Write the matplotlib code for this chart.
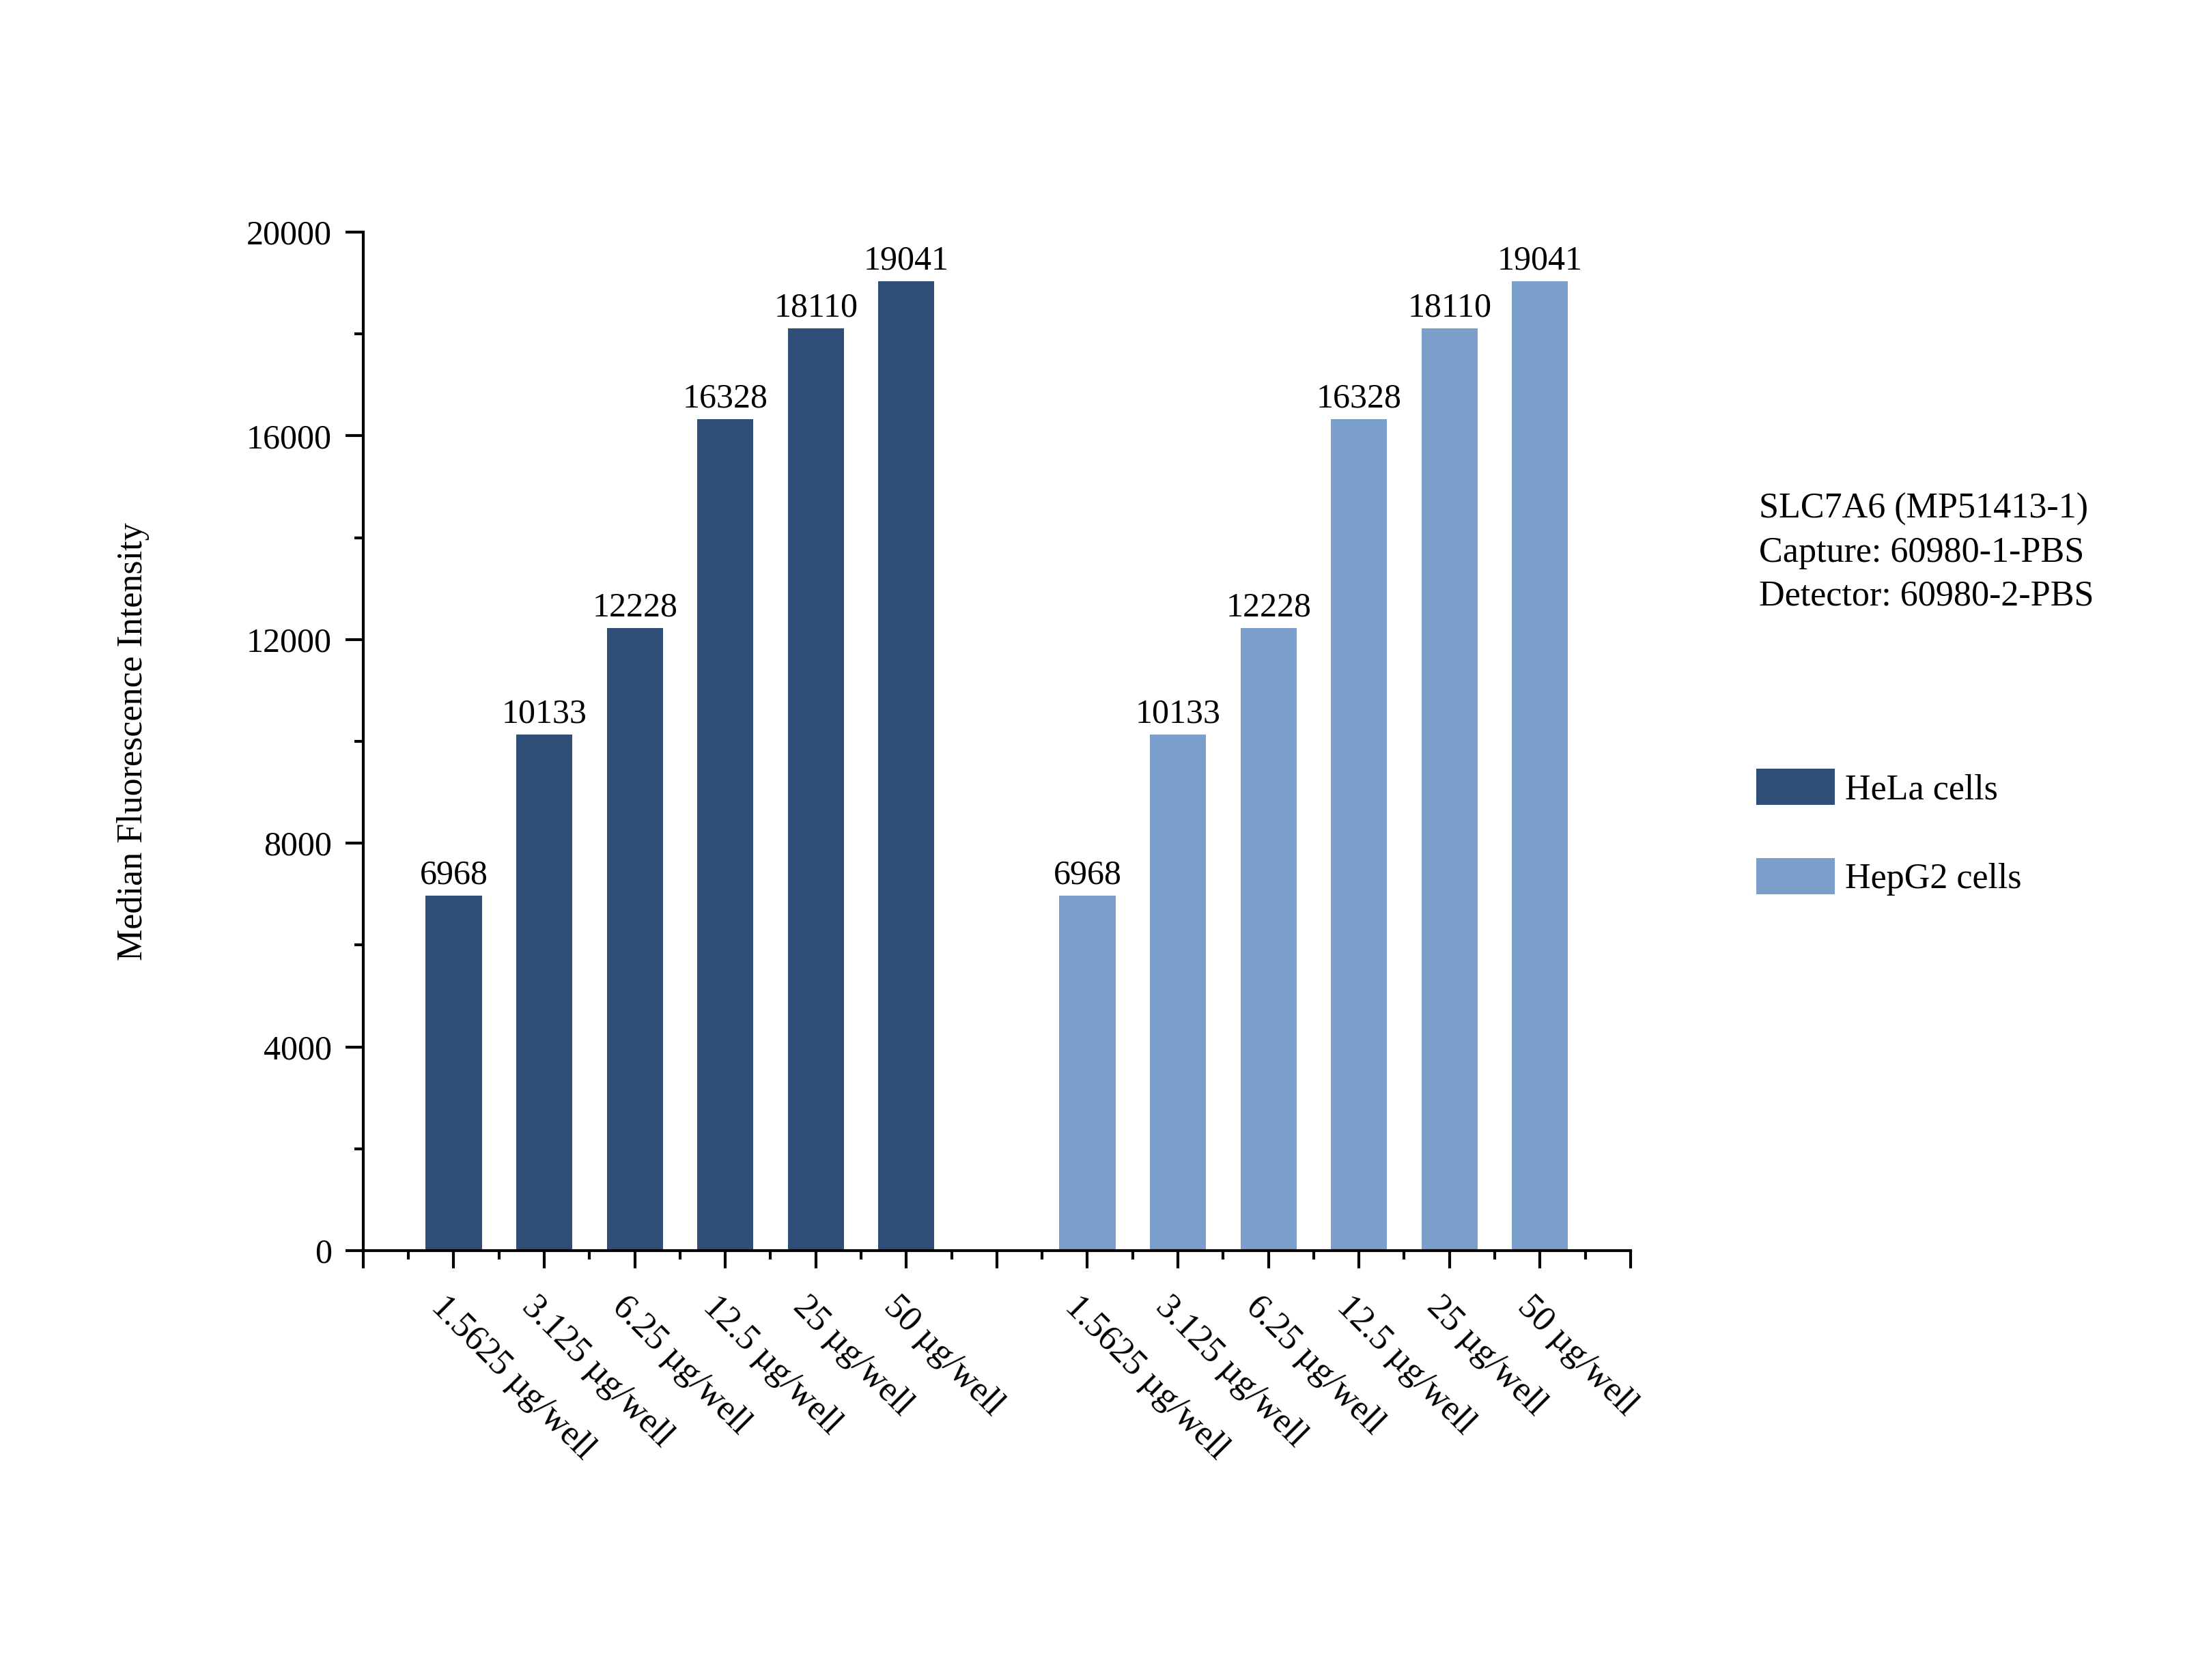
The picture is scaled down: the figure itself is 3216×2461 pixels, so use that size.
import numpy as np
import matplotlib.pyplot as plt
from matplotlib.ticker import MultipleLocator
from matplotlib.patches import Patch

plt.rcParams['font.family'] = ['Liberation Serif', 'DejaVu Serif']

# data
doses = ['1.5625 µg/well', '3.125 µg/well', '6.25 µg/well',
         '12.5 µg/well', '25 µg/well', '50 µg/well']
hela = [6968, 10133, 12228, 16328, 18110, 19041]
hepg2 = [6968, 10133, 12228, 16328, 18110, 19041]
groups = ['HeLa cells', 'HepG2 cells']
colors = ['#304F78', '#7C9ECB']
info = 'SLC7A6 (MP51413-1)\nCapture: 60980-1-PBS\nDetector: 60980-2-PBS'

fig = plt.figure(figsize=(3216 / 300, 2461 / 300), dpi=300)
ax = fig.add_axes([0.1654, 0.2556, 0.5771, 0.6062])

x1 = np.arange(1, len(hela) + 1)
x2 = np.arange(len(hela) + 2, 2 * len(hela) + 2)
b1 = ax.bar(x1, hela, width=0.62, color=colors[0])
b2 = ax.bar(x2, hepg2, width=0.62, color=colors[1])
ax.bar_label(b1, fontsize=12, padding=1.5)
ax.bar_label(b2, fontsize=12, padding=1.5)

ax.set_xlim(0, 14)
ax.set_ylim(0, 20000)
ax.yaxis.set_major_locator(MultipleLocator(4000))
ax.yaxis.set_minor_locator(MultipleLocator(2000))
ax.xaxis.set_major_locator(MultipleLocator(1))
ax.xaxis.set_minor_locator(MultipleLocator(0.5))

for s in ['top', 'right']:
    ax.spines[s].set_visible(False)
for s in ['left', 'bottom']:
    ax.spines[s].set_linewidth(1.0)

ax.tick_params(axis='both', which='major', length=6.2, width=1.0, labelsize=12, pad=4.8)
ax.tick_params(axis='both', which='minor', length=3.1, width=1.0)

# labels only under the bars
ax.set_xticklabels([])
for xs in (x1, x2):
    for xi, lab in zip(xs, doses):
        ax.annotate(lab, xy=(xi, 0), xycoords=('data', 'axes fraction'),
                    xytext=(-2, -14), textcoords='offset points',
                    rotation=-45, rotation_mode='anchor',
                    ha='left', va='top', fontsize=12.5)

fig.text(0.0606, 0.5587, 'Median Fluorescence Intensity', rotation=90,
         ha='center', va='center', fontsize=12.5)

fig.text(0.801, 0.7066, info, ha='left', va='top', fontsize=12.5, linespacing=1.42)

handles = [Patch(facecolor=c, edgecolor='none') for c in colors]
fig.legend(handles, groups, loc='upper left', bbox_to_anchor=(0.7998, 0.5425),
           frameon=False, fontsize=12.5, borderpad=0, borderaxespad=0,
           handlelength=2.2, handleheight=1.2, handletextpad=0.3,
           labelspacing=1.45)

fig.savefig('out.png', dpi=300)
